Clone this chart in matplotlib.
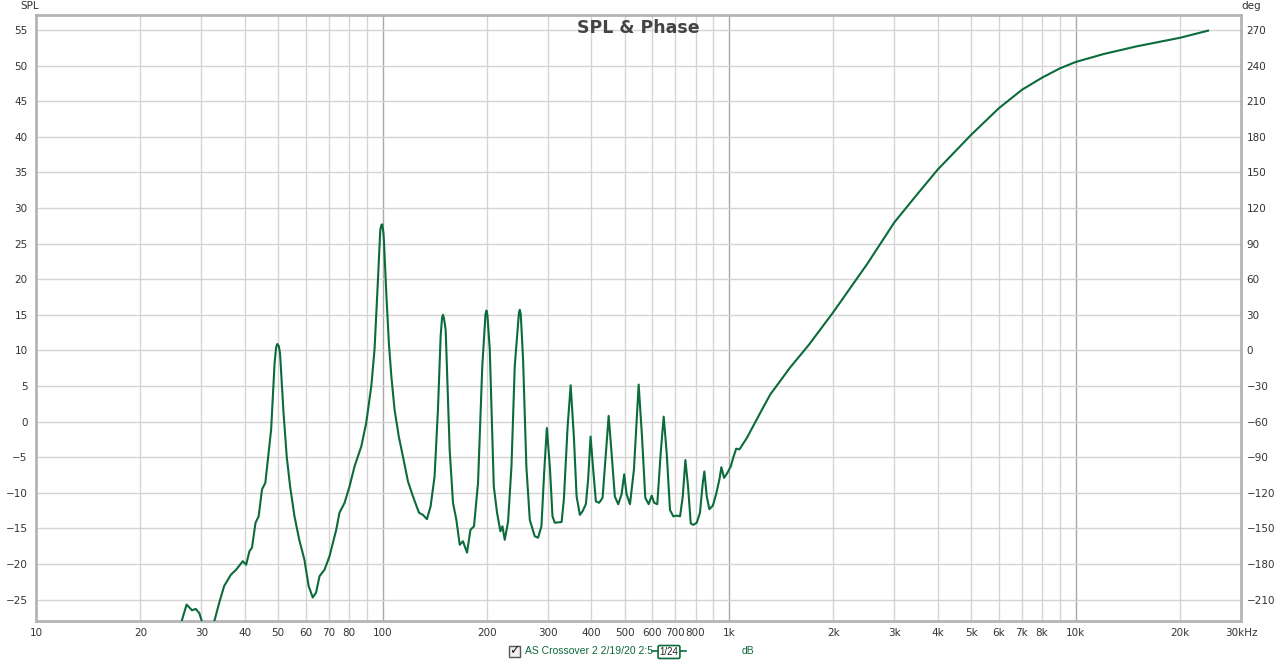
import matplotlib
matplotlib.use("Agg")
import matplotlib.pyplot as plt
from matplotlib.patches import Rectangle
from matplotlib.lines import Line2D

# ====================== DATA ======================
freq_hz = [25.8, 26.4, 27.2, 28.2, 28.9, 29.6, 30.0, 31.3, 32.8, 33.8, 34.9, 36.5, 37.8,
           38.8, 39.5, 40.4, 41.3, 42.0, 43.0, 43.9, 44.9, 45.9, 46.9, 47.7, 48.8, 49.3,
           49.7, 50.2, 50.6, 51.8, 52.9, 54.1, 55.7, 57.5, 59.5, 61.2, 62.9, 64.3, 65.8,
           68.0, 70.3, 73.5, 75.1, 77.7, 80.3, 83.0, 86.8, 89.7, 92.8, 94.8, 96.9, 98.5,
           99.2, 99.8, 100.5, 100.9, 102.5, 104.3, 106.0, 108.3, 111.4, 114.5, 118.4,
           122.4, 127.4, 130.8, 134.3, 137.6, 141.3, 144.5, 147.1, 148.5, 149.4, 150.4,
           152.1, 156.2, 159.7, 163.3, 167.0, 170.6, 175.3, 179.3, 183.6, 188.6, 194.0,
           198.2, 199.4, 200.7, 203.9, 209.4, 214.0, 218.8, 221.8, 225.2, 230.2, 235.5,
           240.7, 247.5, 248.9, 250.5, 254.4, 260.0, 266.0, 274.9, 281.0, 287.4, 292.6,
           297.9, 303.9, 309.3, 314.0, 328.6, 333.6, 342.0, 349.0, 356.5, 363.0, 371.0,
           377.6, 386.0, 392.0, 398.3, 405.3, 412.6, 421.7, 431.4, 441.0, 449.2, 458.0,
           468.0, 478.6, 489.5, 498.0, 506.0, 517.6, 531.4, 548.3, 560.6, 573.0, 586.0,
           597.8, 608.2, 620.5, 634.7, 647.5, 660.6, 675.2, 690.2, 706.0, 721.9, 735.0,
           747.8, 761.3, 775.0, 788.6, 806.6, 824.0, 839.5, 848.4, 862.0, 877.0, 897.5,
           917.3, 937.8, 950.0, 967.0, 988.6, 1011, 1029, 1048, 1071, 1125, 1229, 1314,
           1500, 1700, 2000, 2500, 3000, 3500, 4000, 5000, 6000, 7000, 8000, 9000,
           10000, 12000, 15000, 20000, 24100]
spl_db = [-30.0, -27.8, -25.7, -26.5, -26.3, -26.9, -27.8, -30.5, -27.8, -25.4, -23.1, -21.5, -20.8,
          -20.1, -19.6, -20.1, -18.2, -17.7, -14.2, -13.3, -9.5, -8.6, -4.4, -1.1, 8.2, 10.4,
          10.9, 10.6, 9.6, 1.2, -4.9, -9.1, -13.3, -16.6, -19.4, -23.1, -24.7, -24.0, -21.7,
          -20.8, -18.9, -15.2, -12.8, -11.4, -9.1, -6.3, -3.5, -0.2, 5.0, 10.1, 19.5, 26.9,
          27.6, 27.7, 26.6, 25.5, 18.1, 11.0, 6.4, 1.7, -2.1, -4.9, -8.4,
          -10.5, -12.8, -13.1, -13.7, -11.9, -7.7, 1.7, 12.0, 14.6, 15.0, 14.5,
          12.9, -4.0, -11.4, -13.8, -17.3, -16.8, -18.4, -15.2, -14.7, -8.6, 7.8,
          15.1, 15.6, 15.0, 10.1, -9.1, -12.8, -15.4, -14.7, -16.6, -14.1, -6.3,
          7.8, 15.3, 15.7, 15.1, 8.7, -6.3, -13.8, -16.1, -16.3, -14.7, -7.2,
          -0.9, -6.3, -13.3, -14.2, -14.1, -10.9, -0.7, 5.1, -2.1, -10.5, -13.1,
          -12.6, -11.6, -8.1, -2.1, -6.7, -11.2, -11.4, -10.7, -4.4, 0.8, -4.4,
          -10.5, -11.6, -10.2, -7.4, -10.2, -11.6, -6.7, 5.2, -2.1, -10.7, -11.6,
          -10.4, -11.4, -11.6, -4.4, 0.7, -4.4, -12.4, -13.3, -13.2, -13.3, -10.5,
          -5.4, -9.1, -14.3, -14.5, -14.2, -12.8, -8.6, -7.0, -10.5, -12.3, -11.8,
          -10.2, -8.1, -6.4, -7.9, -7.2, -6.3, -5.0, -3.8, -3.9, -2.3, 1.2, 3.8,
          7.6, 10.8, 15.4, 22.1, 28.0, 32.0, 35.4, 40.3, 44.0, 46.6, 48.3, 49.6,
          50.5, 51.6, 52.7, 53.9, 54.9]

x_ticks = [10, 20, 30, 40, 50, 60, 70, 80, 100, 200, 300, 400, 500, 600, 700, 800,
           1000, 2000, 3000, 4000, 5000, 6000, 7000, 8000, 10000, 20000, 30000]
x_labels = ["10", "20", "30", "40", "50", "60", "70", "80", "100", "200", "300", "400",
            "500", "600", "700", "800", "1k", "2k", "3k", "4k", "5k", "6k", "7k", "8k",
            "10k", "20k", "30kHz"]
spl_ticks = list(range(-25, 60, 5))
deg_ticks = list(range(-210, 300, 30))
# ==================================================

GREEN = "#0b6b3a"
TXT = "#333333"
LEG_FONT = ["Liberation Sans", "DejaVu Sans"]

fig = plt.figure(figsize=(12.87, 6.63), dpi=100)
ax = fig.add_axes([36 / 1287, 1 - 621 / 663, (1241 - 36) / 1287, (621 - 15) / 663])

# grid lines
minor = [m * d for d in (10, 100, 1000, 10000) for m in range(2, 10) if m * d < 30000]
for f in minor:
    ax.axvline(f, color="#d4d4d4", lw=1.0, zorder=0)
for f in (100, 1000, 10000):
    ax.axvline(f, color="#a8a8a8", lw=1.0, zorder=0)
for y in spl_ticks:
    ax.axhline(y, color="#d4d4d4", lw=1.0, zorder=0)

ax.plot(freq_hz, spl_db, color=GREEN, lw=1.5, zorder=3)

ax.set_xscale("log")
ax.set_xlim(10, 30000)
ax.set_ylim(-28, 57.1)
ax.xaxis.set_major_locator(matplotlib.ticker.FixedLocator(x_ticks))
ax.xaxis.set_minor_locator(matplotlib.ticker.NullLocator())
ax.set_xticklabels(x_labels)
ax.set_yticks(spl_ticks)
ax.tick_params(axis="both", length=0, labelsize=7.5, colors=TXT, pad=5)
ax.tick_params(axis="y", pad=6)
for s in ax.spines.values():
    s.set_color("#b4b4b4")
    s.set_linewidth(2)

# phase axis on the right, linked to SPL: deg = 6*dB - 60
ax2 = ax.twinx()
ax2.set_ylim(6 * -28 - 60, 6 * 57.1 - 60)
ax2.set_yticks(deg_ticks)
ax2.tick_params(axis="y", length=0, labelsize=7.5, colors=TXT, pad=4)
for s in ax2.spines.values():
    s.set_visible(False)

fig.text(20 / 1287, 1 - 6 / 663, "SPL", fontsize=7.5, color=TXT, va="center", ha="left")
fig.text(1241 / 1287, 1 - 6 / 663, "deg", fontsize=7.5, color=TXT, va="center", ha="left")
fig.text(638 / 1287, 1 - 28 / 663, "SPL & Phase", fontsize=12.5, fontweight="bold",
         color="#444444", ha="center", va="center")

# legend strip
fig.add_artist(Rectangle((509 / 1287, 1 - 657 / 663), 11 / 1287, 11 / 663,
                         transform=fig.transFigure, facecolor="#f0f0f0",
                         edgecolor="#555555", lw=1))
fig.text(514.5 / 1287, 1 - 651 / 663, "\u2713", fontsize=9, color="#222222",
         ha="center", va="center", fontweight="bold")
fig.text(525 / 1287, 1 - 651 / 663, "AS Crossover 2 2/19/20 2:5", fontsize=7.5,
         family=LEG_FONT, color=GREEN, ha="left", va="center")
fig.add_artist(Line2D([652 / 1287, 686 / 1287], [1 - 651 / 663, 1 - 651 / 663],
                      transform=fig.transFigure, color=GREEN, lw=1.2))
fig.text(669 / 1287, 1 - 652 / 663, "1/24", fontsize=7, family=LEG_FONT, color="#222222",
         ha="center", va="center",
         bbox=dict(boxstyle="round,pad=0.15", fc="white", ec=GREEN, lw=1.2))
fig.text(748 / 1287, 1 - 651 / 663, "dB", fontsize=7.5, family=LEG_FONT, color=GREEN,
         ha="center", va="center")

plt.savefig("out.png", dpi=100)
